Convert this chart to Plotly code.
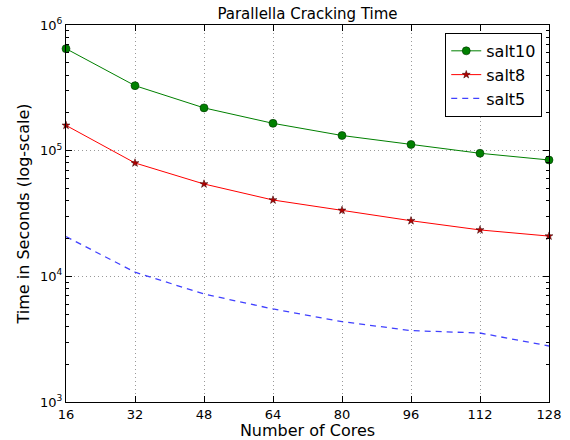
import plotly.graph_objects as go

cores = [16, 32, 48, 64, 80, 96, 112, 128]
salt10 = [648000, 329000, 219000, 165000, 132000, 112000, 95300, 84300]
salt8 = [159000, 79800, 54300, 40500, 33500, 27700, 23400, 20900]
salt5 = [20700, 10800, 7230, 5500, 4360, 3700, 3540, 2790]

x_ticks = [16, 32, 48, 64, 80, 96, 112, 128]
y_tickvals = [1e3, 1e4, 1e5, 1e6]
y_ticktext = ["10<sup>3</sup>", "10<sup>4</sup>", "10<sup>5</sup>", "10<sup>6</sup>"]

fig = go.Figure()
fig.add_trace(go.Scatter(
    x=cores, y=salt10, name="salt10", mode="lines+markers",
    line=dict(color="#008000", width=1),
    marker=dict(symbol="circle", size=8, color="#008000", line=dict(color="#003300", width=0.6)),
    cliponaxis=False,
))
fig.add_trace(go.Scatter(
    x=cores, y=salt8, name="salt8", mode="lines+markers",
    line=dict(color="#ff0000", width=1),
    marker=dict(symbol="star", size=6, color="#b00000", line=dict(color="#330000", width=0.5)),
    cliponaxis=False,
))
fig.add_trace(go.Scatter(
    x=cores, y=salt5, name="salt5", mode="lines",
    line=dict(color="rgba(0,0,255,0.75)", width=1.3, dash="6px,5px"),
))

font = "DejaVu Sans, Liberation Sans, sans-serif"
fig.update_layout(
    width=570, height=440,
    margin=dict(l=66, r=21, t=25, b=38),
    paper_bgcolor="white", plot_bgcolor="white",
    font=dict(family=font, color="black", size=13),
    title=dict(text="Parallella Cracking Time", x=(66 + 483 / 2) / 570, xanchor="center",
               y=1 - 14 / 440, yanchor="middle", font=dict(size=15)),
    showlegend=True,
    legend=dict(x=0.986, y=0.979, xanchor="right", yanchor="top",
                bordercolor="black", borderwidth=1, bgcolor="white",
                font=dict(size=16), tracegroupgap=0),
)
fig.update_xaxes(
    range=[16, 128], tickvals=x_ticks, ticktext=[str(v) for v in x_ticks],
    showline=True, linecolor="black", linewidth=1, mirror="ticks",
    ticks="inside", ticklen=6, tickcolor="black",
    showgrid=True, gridcolor="#999999", griddash="1px,3px", gridwidth=1,
    zeroline=False, automargin=False,
    title=dict(text="Number of Cores", font=dict(size=16), standoff=4),
    tickfont=dict(size=13),
)
fig.update_yaxes(
    type="log", range=[3, 6], tickvals=y_tickvals, ticktext=y_ticktext,
    showline=True, linecolor="black", linewidth=1, mirror="ticks",
    ticks="inside", ticklen=6, tickcolor="black",
    showgrid=True, gridcolor="#999999", griddash="1px,3px", gridwidth=1,
    zeroline=False, automargin=False,
    minor=dict(ticks="inside", ticklen=3, tickcolor="black", dtick="D1", showgrid=False),
    title=dict(text="Time in Seconds (log-scale)", font=dict(size=16), standoff=6),
    tickfont=dict(size=13),
)
fig.write_html("out.html", config={"displayModeBar": False},
               post_script="document.body.style.margin='0';document.body.style.overflow='hidden';")
